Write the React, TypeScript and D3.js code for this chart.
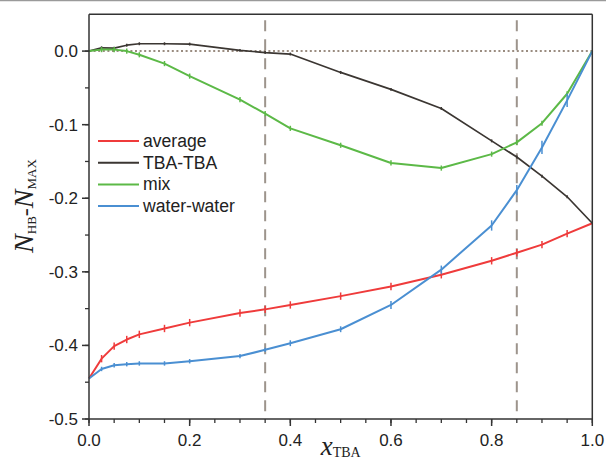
import React from "react";
import * as d3 from "d3";

const xValues = [0, 0.025, 0.05, 0.075, 0.1, 0.15, 0.2, 0.3, 0.35, 0.4, 0.5, 0.6, 0.7, 0.8, 0.85, 0.9, 0.95, 1.0];
const averageValues = [-0.445, -0.418, -0.401, -0.392, -0.385, -0.377, -0.369, -0.356, -0.351, -0.345, -0.333, -0.320, -0.304, -0.285, -0.274, -0.263, -0.248, -0.234];
const tbaValues = [0, 0.0045, 0.004, 0.008, 0.010, 0.010, 0.0095, 0.001, -0.002, -0.004, -0.029, -0.052, -0.078, -0.122, -0.144, -0.170, -0.198, -0.234];
const mixValues = [0, 0.002, 0.002, 0, -0.005, -0.017, -0.034, -0.066, -0.085, -0.105, -0.128, -0.152, -0.159, -0.140, -0.124, -0.098, -0.058, 0];
const waterValues = [-0.445, -0.432, -0.427, -0.4255, -0.4245, -0.4245, -0.4215, -0.4145, -0.406, -0.397, -0.378, -0.345, -0.297, -0.237, -0.189, -0.131, -0.067, 0];

const averageErr = [0, 0.005, 0.005, 0.005, 0.005, 0.005, 0.005, 0.005, 0.005, 0.005, 0.005, 0.005, 0.005, 0.005, 0.005, 0.005, 0.005, 0];
const tbaErr = [0, 0.002, 0.002, 0.002, 0.002, 0.002, 0.002, 0.002, 0.002, 0.002, 0.002, 0.002, 0.002, 0.002, 0.002, 0.002, 0.002, 0];
const mixErr = [0, 0.0035, 0.0035, 0.0035, 0.0035, 0.0035, 0.0035, 0.0035, 0.0035, 0.0035, 0.0035, 0.0035, 0.0035, 0.0035, 0.0035, 0.0035, 0.0035, 0];
const waterErr = [0, 0.003, 0.003, 0.003, 0.003, 0.003, 0.003, 0.003, 0.003, 0.004, 0.004, 0.0055, 0.0055, 0.007, 0.007, 0.009, 0.009, 0];

const seriesNames = ["average", "TBA-TBA", "mix", "water-water"];
const seriesColors = ["#ef3b3b", "#3b3632", "#5cb947", "#4a8fd2"];
const seriesValues = [averageValues, tbaValues, mixValues, waterValues];
const seriesErrors = [averageErr, tbaErr, mixErr, waterErr];
const seriesWidths = [2, 1.7, 2, 2];

const xMajorTicks = [0, 0.2, 0.4, 0.6, 0.8, 1.0];
const yMajorTicks = [0, -0.1, -0.2, -0.3, -0.4, -0.5];
const vLines = [0.35, 0.85];

const W = 606;
const H = 468;
const font = "'Liberation Sans', Arial, sans-serif";
const serif = "'Liberation Serif', 'Times New Roman', serif";

export default function App() {
  const x = d3.scaleLinear().domain([0, 1]).range([89, 592.3]);
  const y = d3.scaleLinear().domain([-0.5, 0.05]).range([419, 14.3]);
  const xMinor = d3.range(0, 1.0001, 0.05);
  const yMinor = d3.range(-0.5, 0.0001, 0.05);
  const axisColor = "#333";

  const line = d3
    .line<number>()
    .x((_, i) => x(xValues[i]))
    .y((d) => y(d));

  return (
    <svg
      width={W}
      height={H}
      style={{ position: "absolute", left: 0, top: 0, background: "#fff" }}
    >
      <line x1={0} x2={W} y1={0.5} y2={0.5} stroke="#9a9a9a" strokeWidth={1.5} />
      {/* reference lines */}
      <line x1={x(0)} x2={x(1)} y1={y(0)} y2={y(0)} stroke="#9a8c80" strokeWidth={2} strokeDasharray="2,2.6" />
      {vLines.map((v) => (
        <line key={v} x1={x(v)} x2={x(v)} y1={y(0.05)} y2={y(-0.5)} stroke="#9d948c" strokeWidth={2} strokeDasharray="11,8" strokeDashoffset={-6} />
      ))}
      {/* series */}
      {seriesValues.map((vals, si) => (
        <g key={si}>
          <path d={line(vals) || ""} fill="none" stroke={seriesColors[si]} strokeWidth={seriesWidths[si]} strokeLinejoin="round" />
          {vals.map((v, i) =>
            seriesErrors[si][i] > 0 ? (
              <line key={i} x1={x(xValues[i])} x2={x(xValues[i])} y1={y(v + seriesErrors[si][i])} y2={y(v - seriesErrors[si][i])} stroke={seriesColors[si]} strokeWidth={1.5} />
            ) : null
          )}
        </g>
      ))}
      {/* frame */}
      <line x1={x(0)} x2={x(1)} y1={y(0.05)} y2={y(0.05)} stroke={axisColor} strokeWidth={1.5} />
      <line x1={x(1)} x2={x(1)} y1={y(0.05)} y2={y(-0.5)} stroke={axisColor} strokeWidth={1.5} />
      <line x1={x(0)} x2={x(1)} y1={y(-0.5)} y2={y(-0.5)} stroke={axisColor} strokeWidth={1.5} />
      <line x1={x(0)} x2={x(0)} y1={y(0.05)} y2={y(-0.5)} stroke={axisColor} strokeWidth={1.5} />
      {/* x ticks */}
      {xMinor.map((t) => (
        <line key={"xm" + t} x1={x(t)} x2={x(t)} y1={y(-0.5)} y2={y(-0.5) + 4} stroke={axisColor} strokeWidth={1.3} />
      ))}
      {xMajorTicks.map((t) => (
        <g key={"xM" + t}>
          <line x1={x(t)} x2={x(t)} y1={y(-0.5)} y2={y(-0.5) + 7} stroke={axisColor} strokeWidth={1.5} />
          <text x={x(t)} y={y(-0.5) + 27} textAnchor="middle" fontFamily={font} fontSize={17} fill="#222">
            {t.toFixed(1)}
          </text>
        </g>
      ))}
      {/* y ticks */}
      {yMinor.map((t) => (
        <line key={"ym" + t} x1={x(0) - 4} x2={x(0)} y1={y(t)} y2={y(t)} stroke={axisColor} strokeWidth={1.3} />
      ))}
      {yMajorTicks.map((t) => (
        <g key={"yM" + t}>
          <line x1={x(0) - 7} x2={x(0)} y1={y(t)} y2={y(t)} stroke={axisColor} strokeWidth={1.5} />
          <text x={x(0) - 11} y={y(t) + 6} textAnchor="end" fontFamily={font} fontSize={17} fill="#222">
            {t.toFixed(1)}
          </text>
        </g>
      ))}
      {/* axis titles */}
      <text x={x(0.5)} y={455} textAnchor="middle" fontFamily={serif} fill="#222">
        <tspan fontStyle="italic" fontSize={27}>x</tspan>
        <tspan fontSize={14} dy={2}>TBA</tspan>
      </text>
      <text transform="translate(33,206) rotate(-90)" textAnchor="middle" fontFamily={serif} fill="#222">
        <tspan fontStyle="italic" fontSize={28}>N</tspan>
        <tspan fontSize={13} dy={3}>HB</tspan>
        <tspan fontSize={24} dy={-3}>-</tspan>
        <tspan fontStyle="italic" fontSize={28}>N</tspan>
        <tspan fontSize={13} dy={3}>MAX</tspan>
      </text>
      {/* legend */}
      {seriesNames.map((n, i) => {
        const ly = 141 + i * 21.7;
        return (
          <g key={n}>
            <line x1={98} x2={139} y1={ly} y2={ly} stroke={seriesColors[i]} strokeWidth={2} />
            <text x={143} y={ly + 6} fontFamily={font} fontSize={17.6} fill="#222">
              {n}
            </text>
          </g>
        );
      })}
    </svg>
  );
}
